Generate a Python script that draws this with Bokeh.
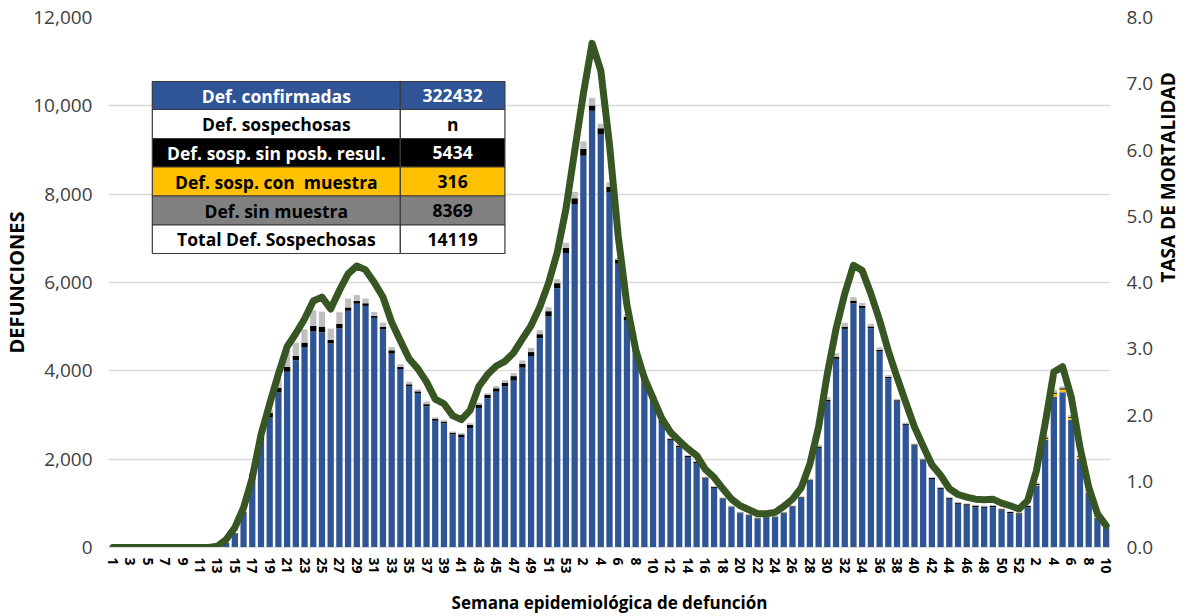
import math
from bokeh.plotting import figure
from bokeh.models import (ColumnDataSource, Range1d, LinearAxis, FixedTicker,
                          NumeralTickFormatter, Label, BoxAnnotation)
from bokeh.embed import file_html
from bokeh.resources import INLINE

# ---------------- data ----------------
weeks_2020 = list(range(1, 54))
weeks_2021 = list(range(1, 53))
weeks_2022 = list(range(1, 11))
week_labels = weeks_2020 + weeks_2021 + weeks_2022

confirmadas = ([0] * 12 +
    [20, 110, 320, 790, 1620, 2420, 2940, 3510, 3980, 4240, 4540, 4890, 4870, 4620,
     4960, 5360, 5520, 5470, 5200, 4940, 4390, 4040, 3650, 3490, 3200, 2870, 2810,
     2560, 2500, 2700, 3160, 3380, 3530, 3650, 3780, 4070, 4335, 4740, 5230, 5870, 6670] +
    [7780, 8870, 9890, 9350, 8050, 6425, 5150, 4430, 3800, 3380,
     2830, 2420, 2270, 2040, 1910, 1560, 1350, 1100, 913, 777,
     725, 650, 686, 686, 777, 920, 1125, 1517, 2256, 3305,
     4272, 4950, 5530, 5425, 4965, 4437, 3833, 3305, 2778, 2309,
     1970, 1550, 1328, 1102, 989, 951, 913, 898, 913, 838,
     777, 747] +
    [913, 1404, 2438, 3419, 3517, 2891, 2008, 1253, 672, 423])

con_muestra = ([0] * 53 + [0] * 52 +
    [0, 10, 25, 60, 60, 45, 40, 40, 20, 10])

sin_posb_resul = ([0] * 13 +
    [5, 10, 20, 50, 100, 110, 110, 113, 100, 100, 130, 130, 80, 105, 75, 60, 60, 45,
     60, 75, 50, 45, 45, 45, 40, 40, 40, 60, 75, 75, 75, 75, 80, 100, 90, 90, 90,
     120, 115, 115] +
    [130, 150, 115, 140, 115, 90, 75, 60, 55, 40,
     40, 35, 35, 35, 30, 25, 20, 15, 15, 15,
     15, 15, 15, 15, 15, 15, 15, 20, 30, 40,
     45, 50, 60, 45, 40, 35, 30, 30, 25, 25,
     25, 25, 25, 25, 25, 30, 35, 30, 30, 30,
     25, 30] +
    [25, 25, 30, 30, 30, 25, 20, 20, 15, 10])

sin_muestra = ([0] * 17 +
    [20, 80, 200, 360, 300, 300, 350, 340, 255, 260, 200, 135, 105, 90, 90, 75, 60,
     60, 45, 60, 40, 35, 25, 30, 40, 40, 40, 50, 60, 70, 75, 95, 90, 90, 90, 115] +
    [140, 175, 175, 105, 100, 40, 60, 50, 45, 40,
     30, 30, 25, 20, 20, 20, 20, 20, 20, 20,
     20, 20, 20, 20, 20, 20, 20, 20, 40, 60,
     80, 90, 80, 70, 60, 60, 40, 30, 25, 20] + [20] * 12 +
    [20, 30, 50, 60, 40, 40, 30, 20, 15, 10])

tasa = ([0] * 12 +
    [0.02, 0.12, 0.3, 0.6, 1.05, 1.7, 2.17, 2.62, 3.03, 3.23, 3.45, 3.72, 3.78, 3.60,
     3.88, 4.13, 4.25, 4.19, 4.0, 3.78, 3.40, 3.12, 2.85, 2.70, 2.50, 2.24, 2.17,
     1.99, 1.93, 2.07, 2.43, 2.61, 2.74, 2.81, 2.94, 3.15, 3.35, 3.63, 3.99, 4.45, 5.11] +
    [5.98, 6.85, 7.61, 7.20, 6.08, 4.70, 3.66, 2.99, 2.56, 2.25,
     1.95, 1.74, 1.61, 1.49, 1.39, 1.18, 1.06, 0.89, 0.73, 0.63,
     0.57, 0.51, 0.51, 0.53, 0.62, 0.73, 0.90, 1.26, 1.82, 2.62,
     3.30, 3.83, 4.26, 4.18, 3.83, 3.43, 2.97, 2.57, 2.19, 1.82,
     1.53, 1.25, 1.09, 0.89, 0.80, 0.76, 0.73, 0.72, 0.73, 0.67,
     0.63, 0.58] +
    [0.71, 1.16, 1.87, 2.65, 2.73, 2.27, 1.51, 0.91, 0.51, 0.33])

table_labels = ["Def. confirmadas", "Def. sospechosas", "Def. sosp. sin posb. resul.",
                "Def. sosp. con\u00a0 muestra", "Def. sin muestra", "Total Def. Sospechosas"]
table_values = ["322432", "n", "5434", "316", "8369", "14119"]

# ---------------- styling ----------------
C_BLUE = "#2F5597"
C_YEL = "#FFC000"
C_BLK = "#000000"
C_GRAY = "#BFBFBF"
C_LINE = "#375623"

n = len(week_labels)
x = list(range(n))

# frame placement (canvas pixels)
FL, FR, FT, FB = 105, 1111, 17, 547
W, H = 1197, 616

def px_x(px):
    return -0.5 + (px - FL) * n / (FR - FL)

def px_y(py):
    return (FB - py) * 12000 / (FB - FT)

p = figure(width=W, height=H, x_range=Range1d(-0.5, n - 0.5), y_range=Range1d(0, 12000),
           output_backend="svg", toolbar_location=None,
           min_border_left=FL, min_border_right=W - FR,
           min_border_top=FT, min_border_bottom=H - FB)
p.outline_line_color = None
p.extra_y_ranges = {"rate": Range1d(0, 8)}

src = ColumnDataSource(dict(x=x, conf=confirmadas, amar=con_muestra,
                            negro=sin_posb_resul, gris=sin_muestra, tasa=tasa))
p.vbar_stack(["conf", "amar", "negro", "gris"], x="x", width=0.72,
             color=[C_BLUE, C_YEL, C_BLK, C_GRAY], line_color=None, source=src)
p.line("x", "tasa", source=src, y_range_name="rate", line_color=C_LINE,
       line_width=7, line_join="round", line_cap="round")

# grid
p.xgrid.grid_line_color = None
p.ygrid.grid_line_color = "#D9D9D9"
p.ygrid.grid_line_width = 1.3
p.ygrid.ticker = FixedTicker(ticks=list(range(0, 12001, 2000)))

def no_ticks(ax):
    ax.major_tick_out = 0
    ax.major_tick_in = 0
    ax.minor_tick_out = 0
    ax.minor_tick_in = 0
    ax.major_tick_line_color = None
    ax.minor_tick_line_color = None

# left axis
ya = p.yaxis[0]
no_ticks(ya)
ya.ticker = FixedTicker(ticks=list(range(0, 12001, 2000)))
ya.formatter = NumeralTickFormatter(format="0,0")
ya.axis_line_color = None
ya.major_label_standoff = 16
ya.major_label_text_font = "Open Sans"
ya.major_label_text_font_size = "19px"
ya.major_label_text_color = "#404040"
ya.axis_label = "DEFUNCIONES"
ya.axis_label_standoff = 0
ya.axis_label_text_font = "Open Sans"
ya.axis_label_text_font_style = "bold"
ya.axis_label_text_font_size = "20px"
ya.axis_label_text_color = "#000000"

# right axis
ra = LinearAxis(y_range_name="rate", ticker=FixedTicker(ticks=list(range(0, 9))),
                formatter=NumeralTickFormatter(format="0.0"))
no_ticks(ra)
ra.axis_line_color = None
ra.major_label_standoff = 16
ra.major_label_text_font = "Open Sans"
ra.major_label_text_font_size = "19px"
ra.major_label_text_color = "#404040"
ra.axis_label = "TASA DE MORTALIDAD"
ra.axis_label_standoff = 12
ra.axis_label_text_font = "Open Sans"
ra.axis_label_text_font_style = "bold"
ra.axis_label_text_font_size = "19px"
ra.axis_label_text_color = "#000000"
try:
    ra.axis_label_orientation = math.pi / 2
except Exception:
    pass
p.add_layout(ra, "right")

# x axis
xa = p.xaxis[0]
no_ticks(xa)
xa.ticker = FixedTicker(ticks=list(range(0, n, 2)))
xa.major_label_overrides = {i: str(week_labels[i]) for i in range(0, n, 2)}
xa.major_label_orientation = "vertical"
xa.major_label_text_font = "Open Sans"
xa.major_label_text_font_style = "bold"
xa.major_label_text_font_size = "14px"
xa.major_label_text_color = "#000000"
xa.major_label_standoff = 10
xa.axis_line_color = "#D9D9D9"
xa.axis_label = "Semana epidemiológica de defunción"
xa.axis_label_standoff = 14
xa.axis_label_text_font = "Open Sans"
xa.axis_label_text_font_style = "bold"
xa.axis_label_text_font_size = "17px"
xa.axis_label_text_color = "#000000"

# summary table
row_edges = [81, 109, 138, 166.5, 195.5, 224.5, 253]
col_edges = [149, 398, 503]
row_bg = [C_BLUE, "#FFFFFF", "#000000", C_YEL, "#808080", "#FFFFFF"]
row_fg = ["#FFFFFF", "#000000", "#FFFFFF", "#000000", "#000000", "#000000"]
for r in range(6):
    for c in range(2):
        p.add_layout(BoxAnnotation(left=px_x(col_edges[c]), right=px_x(col_edges[c + 1]),
                                   top=px_y(row_edges[r]), bottom=px_y(row_edges[r + 1]),
                                   fill_color=row_bg[r], fill_alpha=1.0,
                                   line_color="#3A3A3A", line_width=1.2, line_alpha=1.0))
    ymid = px_y((row_edges[r] + row_edges[r + 1]) / 2)
    for c, txt in enumerate([table_labels[r], table_values[r]]):
        p.add_layout(Label(x=px_x((col_edges[c] + col_edges[c + 1]) / 2), y=ymid, text=txt,
                           text_align="center", text_baseline="middle",
                           text_font="Open Sans", text_font_style="bold",
                           text_font_size="17.5px", text_color=row_fg[r]))

open("out.html", "w").write(file_html(p, INLINE))
